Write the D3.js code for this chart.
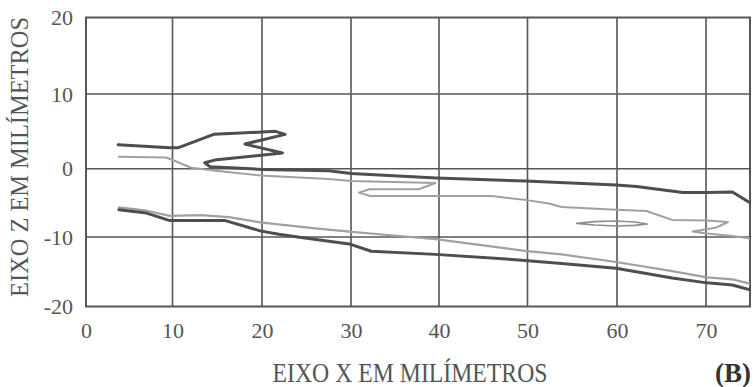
<!DOCTYPE html>
<html>
<head>
<meta charset="utf-8">
<script src="https://cdn.jsdelivr.net/npm/d3@7"></script>
<style>
  html, body { margin: 0; padding: 0; background: #fff; }
  svg { display: block; }
  text { font-family: "Liberation Serif", "Times New Roman", serif; }
</style>
</head>
<body>
<svg id="chart" width="753" height="387"></svg>
<script>
// Tick values on both axes
const xTicks = [0, 10, 20, 30, 40, 50, 60, 70];
const zTicks = [-20, -10, 0, 10, 20];

// Profile contours, [x mm, z mm]
const upperDark = [
  [3.7, 3.2], [9.7, 2.8], [10.6, 2.8], [14.6, 4.6], [21.5, 5.0], [22.6, 4.6],
  [18.1, 3.3], [22.3, 2.1], [14.7, 1.15], [13.6, 0.8], [14.2, 0.27], [20, -0.1],
  [27.5, -0.3], [30, -0.7], [39.7, -1.35], [49.8, -1.8], [59.9, -2.4], [62.2, -2.6],
  [67.4, -3.5], [70.1, -3.5], [73.0, -3.4], [75, -5.0]
];
const upperLight = [
  [3.8, 1.6], [9.3, 1.5], [12.1, 0.13], [15.1, -0.34], [19.8, -1.0], [27.5, -1.5],
  [30, -1.8], [39.6, -2.1], [37.7, -3.0], [32.1, -3.0], [30.9, -3.5], [32.2, -4.0],
  [39.6, -4.0], [46, -4.0], [49.9, -4.6], [52.4, -5.1], [53.8, -5.6], [59.9, -6.0],
  [63.3, -6.2], [66.2, -7.5], [70.1, -7.6], [72.5, -7.8], [71.2, -8.6], [68.5, -9.2],
  [70.1, -9.5], [73, -9.85], [75, -10.2]
];
const innerLoop = [
  [55.5, -8.0], [57.5, -7.75], [59.9, -7.65], [62, -7.8], [63.4, -8.1],
  [62, -8.3], [59.9, -8.4], [57.5, -8.25], [55.5, -8.0]
];
const lowerLight = [
  [3.8, -5.65], [7.0, -6.15], [9.7, -6.9], [13.2, -6.8], [16.3, -7.1], [19.8, -7.85],
  [25.7, -8.7], [29.8, -9.2], [33.2, -9.6], [39.6, -10.3], [49.7, -12.0], [53.8, -12.5],
  [59.9, -13.6], [66.2, -14.9], [70.1, -15.8], [73, -16.1], [75, -16.7]
];
const lowerDark = [
  [3.8, -6.0], [7.0, -6.5], [9.7, -7.6], [15.9, -7.6], [19.8, -9.1], [21.9, -9.6],
  [24.2, -10.05], [29.8, -11.0], [32.3, -12.05], [39.6, -12.5], [49, -13.3], [53.8, -13.8],
  [59.9, -14.5], [66.2, -15.9], [70.1, -16.6], [73, -16.9], [75, -17.6]
];

const svg = d3.select("#chart");
const serif = "'Liberation Serif', 'Times New Roman', serif";

// Calibrated scales (the printed grid is slightly uneven)
const x = d3.scaleLinear()
  .domain([0, 10, 20, 30, 40, 50, 60, 70, 75])
  .range([86, 172.5, 262, 351, 439, 527.5, 617, 706, 750]);
const z = d3.scaleLinear()
  .domain([-20, -10, 0, 10, 20])
  .range([306.5, 237, 168.7, 94, 17.5]);

const plotLeft = x(0), plotRight = x(75), plotTop = z(20), plotBottom = z(-20);
const gridColor = "#565656";

// Grid lines
const grid = svg.append("g");
grid.selectAll("line.vx").data(xTicks.filter(d => d > 0)).join("line")
  .attr("class", "vx")
  .attr("x1", d => x(d)).attr("x2", d => x(d))
  .attr("y1", plotTop).attr("y2", plotBottom)
  .attr("stroke", gridColor).attr("stroke-width", 1.6);
grid.selectAll("line.hz").data(zTicks.filter(d => d > -20 && d < 20)).join("line")
  .attr("class", "hz")
  .attr("x1", plotLeft).attr("x2", plotRight)
  .attr("y1", d => z(d)).attr("y2", d => z(d))
  .attr("stroke", gridColor).attr("stroke-width", 1.6);

// Plot frame
svg.append("rect")
  .attr("x", plotLeft).attr("y", plotTop)
  .attr("width", plotRight - plotLeft).attr("height", plotBottom - plotTop)
  .attr("fill", "none").attr("stroke", gridColor).attr("stroke-width", 2);

// Axes (labels only), plain hyphen for negatives
const fmt = d => String(d);
const xAxis = svg.append("g")
  .attr("transform", `translate(0,${plotBottom})`)
  .call(d3.axisBottom(x).tickValues(xTicks).tickSize(0).tickPadding(15.5).tickFormat(fmt));
const zAxis = svg.append("g")
  .attr("transform", `translate(${plotLeft},0)`)
  .call(d3.axisLeft(z).tickValues(zTicks).tickSize(0).tickPadding(13).tickFormat(fmt));
[xAxis, zAxis].forEach(a => {
  a.attr("font-family", serif).attr("font-size", 22);
  a.select(".domain").remove();
  a.selectAll("text")
    .attr("fill", "#555")
    .attr("font-family", serif)
    .attr("font-size", 22);
});

// Contours
const line = d3.line().x(d => x(d[0])).y(d => z(d[1]));
svg.append("clipPath").attr("id", "plotClip")
  .append("rect").attr("x", plotLeft).attr("y", plotTop)
  .attr("width", plotRight - plotLeft).attr("height", plotBottom - plotTop);
const curves = svg.append("g").attr("clip-path", "url(#plotClip)");

const series = [
  { data: lowerLight, color: "#a0a0a0", width: 2.2 },
  { data: lowerDark, color: "#4e4e4e", width: 3 },
  { data: upperLight, color: "#a0a0a0", width: 2.0 },
  { data: innerLoop, color: "#8c8c8c", width: 1.6 },
  { data: upperDark, color: "#4e4e4e", width: 3 }
];
curves.selectAll("path").data(series).join("path")
  .attr("d", d => line(d.data))
  .attr("fill", "none")
  .attr("stroke", d => d.color)
  .attr("stroke-width", d => d.width)
  .attr("stroke-linejoin", "round")
  .attr("stroke-linecap", "round");

// Axis titles
svg.append("text")
  .attr("x", 410).attr("y", 381.5)
  .attr("text-anchor", "middle")
  .attr("textLength", 275).attr("lengthAdjust", "spacingAndGlyphs")
  .attr("fill", "#555")
  .attr("font-family", serif)
  .attr("font-size", 27)
  .text("EIXO X EM MILÍMETROS");

svg.append("text")
  .attr("transform", "translate(27.5,157) rotate(-90)")
  .attr("text-anchor", "middle")
  .attr("textLength", 280).attr("lengthAdjust", "spacingAndGlyphs")
  .attr("fill", "#555")
  .attr("font-family", serif)
  .attr("font-size", 26)
  .text("EIXO Z EM MILÍMETROS");

svg.append("text")
  .attr("x", 751).attr("y", 381.5)
  .attr("text-anchor", "end")
  .attr("fill", "#333")
  .attr("font-family", serif)
  .attr("font-size", 27)
  .attr("font-weight", "bold")
  .text("(B)");
</script>
</body>
</html>
